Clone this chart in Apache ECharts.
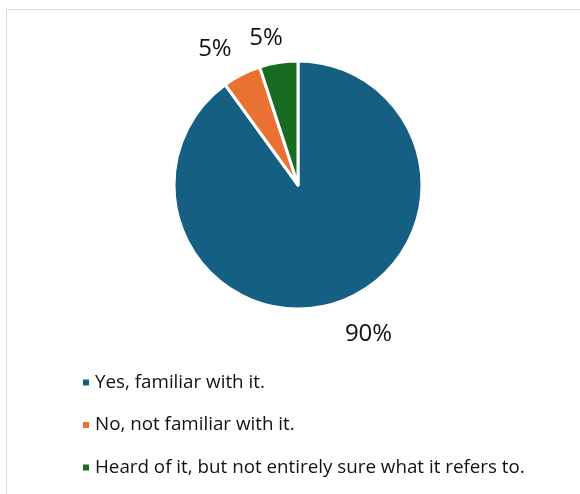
<!DOCTYPE html>
<html>
<head>
<meta charset="utf-8">
<script src="https://cdn.jsdelivr.net/npm/echarts@6/dist/echarts.min.js"></script>
<style>
html, body { margin: 0; padding: 0; background: #fff; }
#frame { position: absolute; left: 6px; top: 9px; width: 600px; height: 520px;
  border-left: 1px solid #d9d9d9; border-top: 1px solid #d9d9d9; }
#main { position: absolute; left: 0; top: 0; width: 580px; height: 494px; }
</style>
</head>
<body>
<div id="frame"></div>
<div id="main"></div>
<script>
var categories = ['Yes, familiar with it.', 'No, not familiar with it.', 'Heard of it, but not entirely sure what it refers to.'];
var values = [90, 5, 5];
var colors = ['#156082', '#E97132', '#196B24'];
// nudges for the outside labels, to sit like the original
var labelShift = [[-2, 14], [19, -22], [12, -7]];

var pieData = [];
for (var i = 0; i < categories.length; i++) {
    pieData.push({ name: categories[i], value: values[i], itemStyle: { color: colors[i] } });
}

var chart = echarts.init(document.getElementById('main'));
var option = {
    animation: false,
    legend: {
        orient: 'vertical',
        left: 76,
        top: 368,
        itemWidth: 8,
        itemHeight: 8,
        itemGap: 23.5,
        icon: 'rect',
        textStyle: { fontFamily: 'Open Sans', fontSize: 18.8, color: '#111' },
        data: categories
    },
    series: [{
        type: 'pie',
        center: [298, 185],
        radius: 124,
        startAngle: 90,
        data: pieData,
        itemStyle: { borderColor: '#fff', borderWidth: 3 },
        label: {
            show: true,
            position: 'outside',
            formatter: '{d}%',
            fontFamily: 'Open Sans',
            fontSize: 24,
            color: '#111'
        },
        labelLine: { show: false, length: 18, length2: 0 },
        labelLayout: function (params) {
            var s = labelShift[params.dataIndex];
            return { dx: s[0], dy: s[1] };
        }
    }]
};
chart.setOption(option);
</script>
</body>
</html>
